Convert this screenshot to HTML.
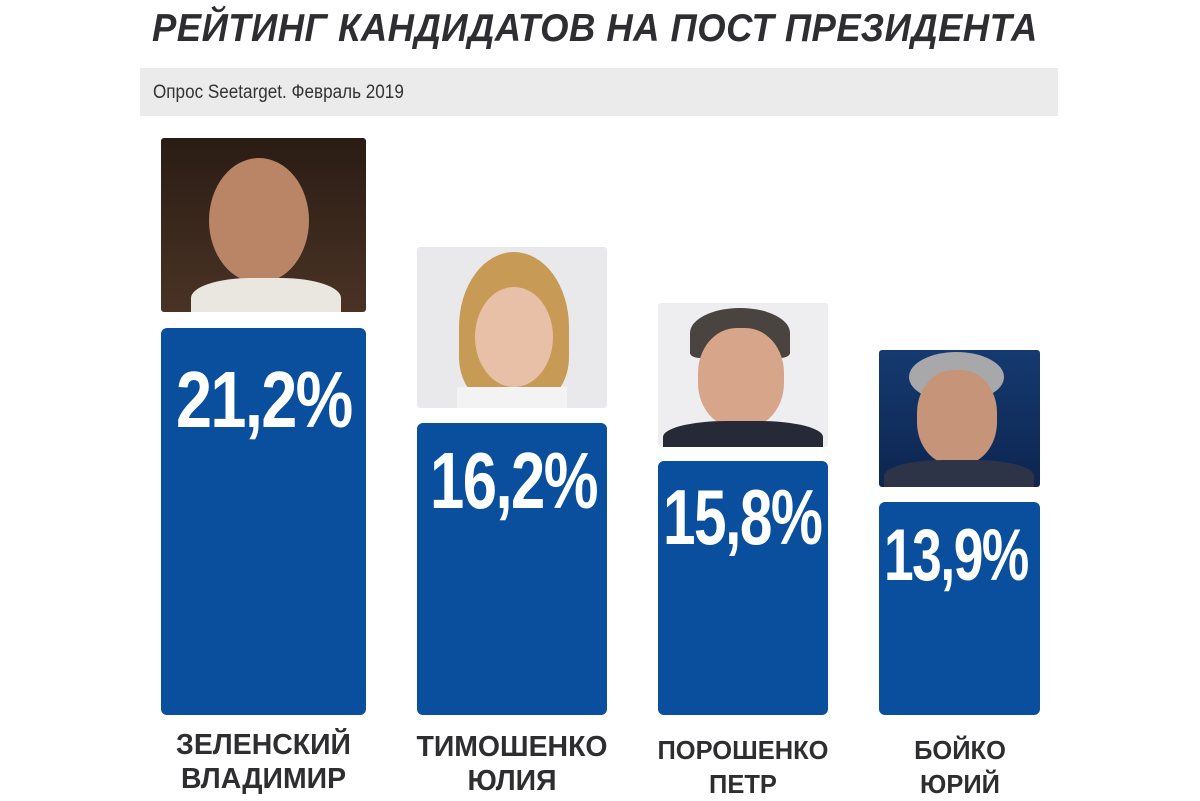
<!DOCTYPE html>
<html><head><meta charset="utf-8"><style>
body{margin:0;width:1200px;height:800px;background:#fff;position:relative;overflow:hidden;font-family:"Liberation Sans","DejaVu Sans",sans-serif}
.a{position:absolute}
.bar{position:absolute;background:#0a4f9e;border-radius:6px}
.pct{position:absolute;color:#fff;font-weight:bold;white-space:nowrap;transform-origin:left top;letter-spacing:-2px}
.nm{position:absolute;color:#2e2e30;font-weight:bold;text-align:center;font-size:29px;line-height:34px;transform:scaleX(0.98);white-space:nowrap}
.ph{position:absolute;border-radius:3px;overflow:hidden}
</style></head><body>
<div class="a" style="left:152px;top:7px;font-size:39px;font-weight:bold;font-style:italic;color:#2e2e32;white-space:nowrap;transform:scaleX(0.935);transform-origin:left top;letter-spacing:0.5px">РЕЙТИНГ КАНДИДАТОВ НА ПОСТ ПРЕЗИДЕНТА</div>
<div class="a" style="left:140px;top:68px;width:918px;height:48px;background:#ebebeb"></div>
<div class="a" style="left:153px;top:82px;font-size:19px;color:#333;transform:scaleX(0.9);transform-origin:left top;white-space:nowrap">Опрос Seetarget. Февраль 2019</div>

<div class="ph" style="left:161px;top:138px;width:205px;height:174px;background:linear-gradient(#2a1c14,#4a3325)">
<div class="a" style="left:48px;top:20px;width:100px;height:125px;border-radius:50%;background:#b98566"></div>
<div class="a" style="left:30px;top:140px;width:150px;height:50px;border-radius:40% 40% 0 0;background:#eae6e0"></div></div>
<div class="ph" style="left:417px;top:247px;width:190px;height:161px;background:#e9e9eb">
<div class="a" style="left:42px;top:5px;width:110px;height:150px;border-radius:50% 50% 30% 30%;background:#c79a55"></div>
<div class="a" style="left:58px;top:40px;width:78px;height:100px;border-radius:50%;background:#e8c0a8"></div>
<div class="a" style="left:40px;top:140px;width:110px;height:30px;background:#f3f3f3"></div></div>
<div class="ph" style="left:658px;top:303px;width:170px;height:144px;background:#eeeef0">
<div class="a" style="left:32px;top:5px;width:100px;height:50px;border-radius:50% 50% 10% 10%;background:#4a4440"></div>
<div class="a" style="left:40px;top:25px;width:86px;height:100px;border-radius:45%;background:#d6a58a"></div>
<div class="a" style="left:5px;top:118px;width:160px;height:40px;border-radius:40% 40% 0 0;background:#252a36"></div></div>
<div class="ph" style="left:879px;top:350px;width:161px;height:137px;background:linear-gradient(#153a70,#0d2550)">
<div class="a" style="left:30px;top:2px;width:95px;height:50px;border-radius:50%;background:#a8a8aa"></div>
<div class="a" style="left:38px;top:20px;width:80px;height:95px;border-radius:45%;background:#c69478"></div>
<div class="a" style="left:5px;top:110px;width:150px;height:40px;border-radius:40% 40% 0 0;background:#2d3448"></div></div>

<div class="bar" style="left:161px;top:328px;width:205px;height:387px"></div>
<div class="bar" style="left:417px;top:423px;width:190px;height:292px"></div>
<div class="bar" style="left:658px;top:461px;width:170px;height:254px"></div>
<div class="bar" style="left:879px;top:502px;width:161px;height:213px"></div>

<div class="pct" style="left:176px;top:354px;font-size:80px;transform:scaleX(0.81)">21,2%</div>
<div class="pct" style="left:430px;top:435px;font-size:80px;transform:scaleX(0.77)">16,2%</div>
<div class="pct" style="left:663px;top:472px;font-size:78px;transform:scaleX(0.75)">15,8%</div>
<div class="pct" style="left:884px;top:514px;font-size:73px;transform:scaleX(0.73)">13,9%</div>

<div class="nm" style="left:131px;top:728px;width:265px">ЗЕЛЕНСКИЙ<br>ВЛАДИМИР</div>
<div class="nm" style="left:382px;top:730px;width:260px">ТИМОШЕНКО<br>ЮЛИЯ</div>
<div class="nm" style="left:623px;top:733px;width:240px;font-size:26px">ПОРОШЕНКО<br>ПЕТР</div>
<div class="nm" style="left:860px;top:733px;width:200px;font-size:26px">БОЙКО<br>ЮРИЙ</div>
</body></html>
